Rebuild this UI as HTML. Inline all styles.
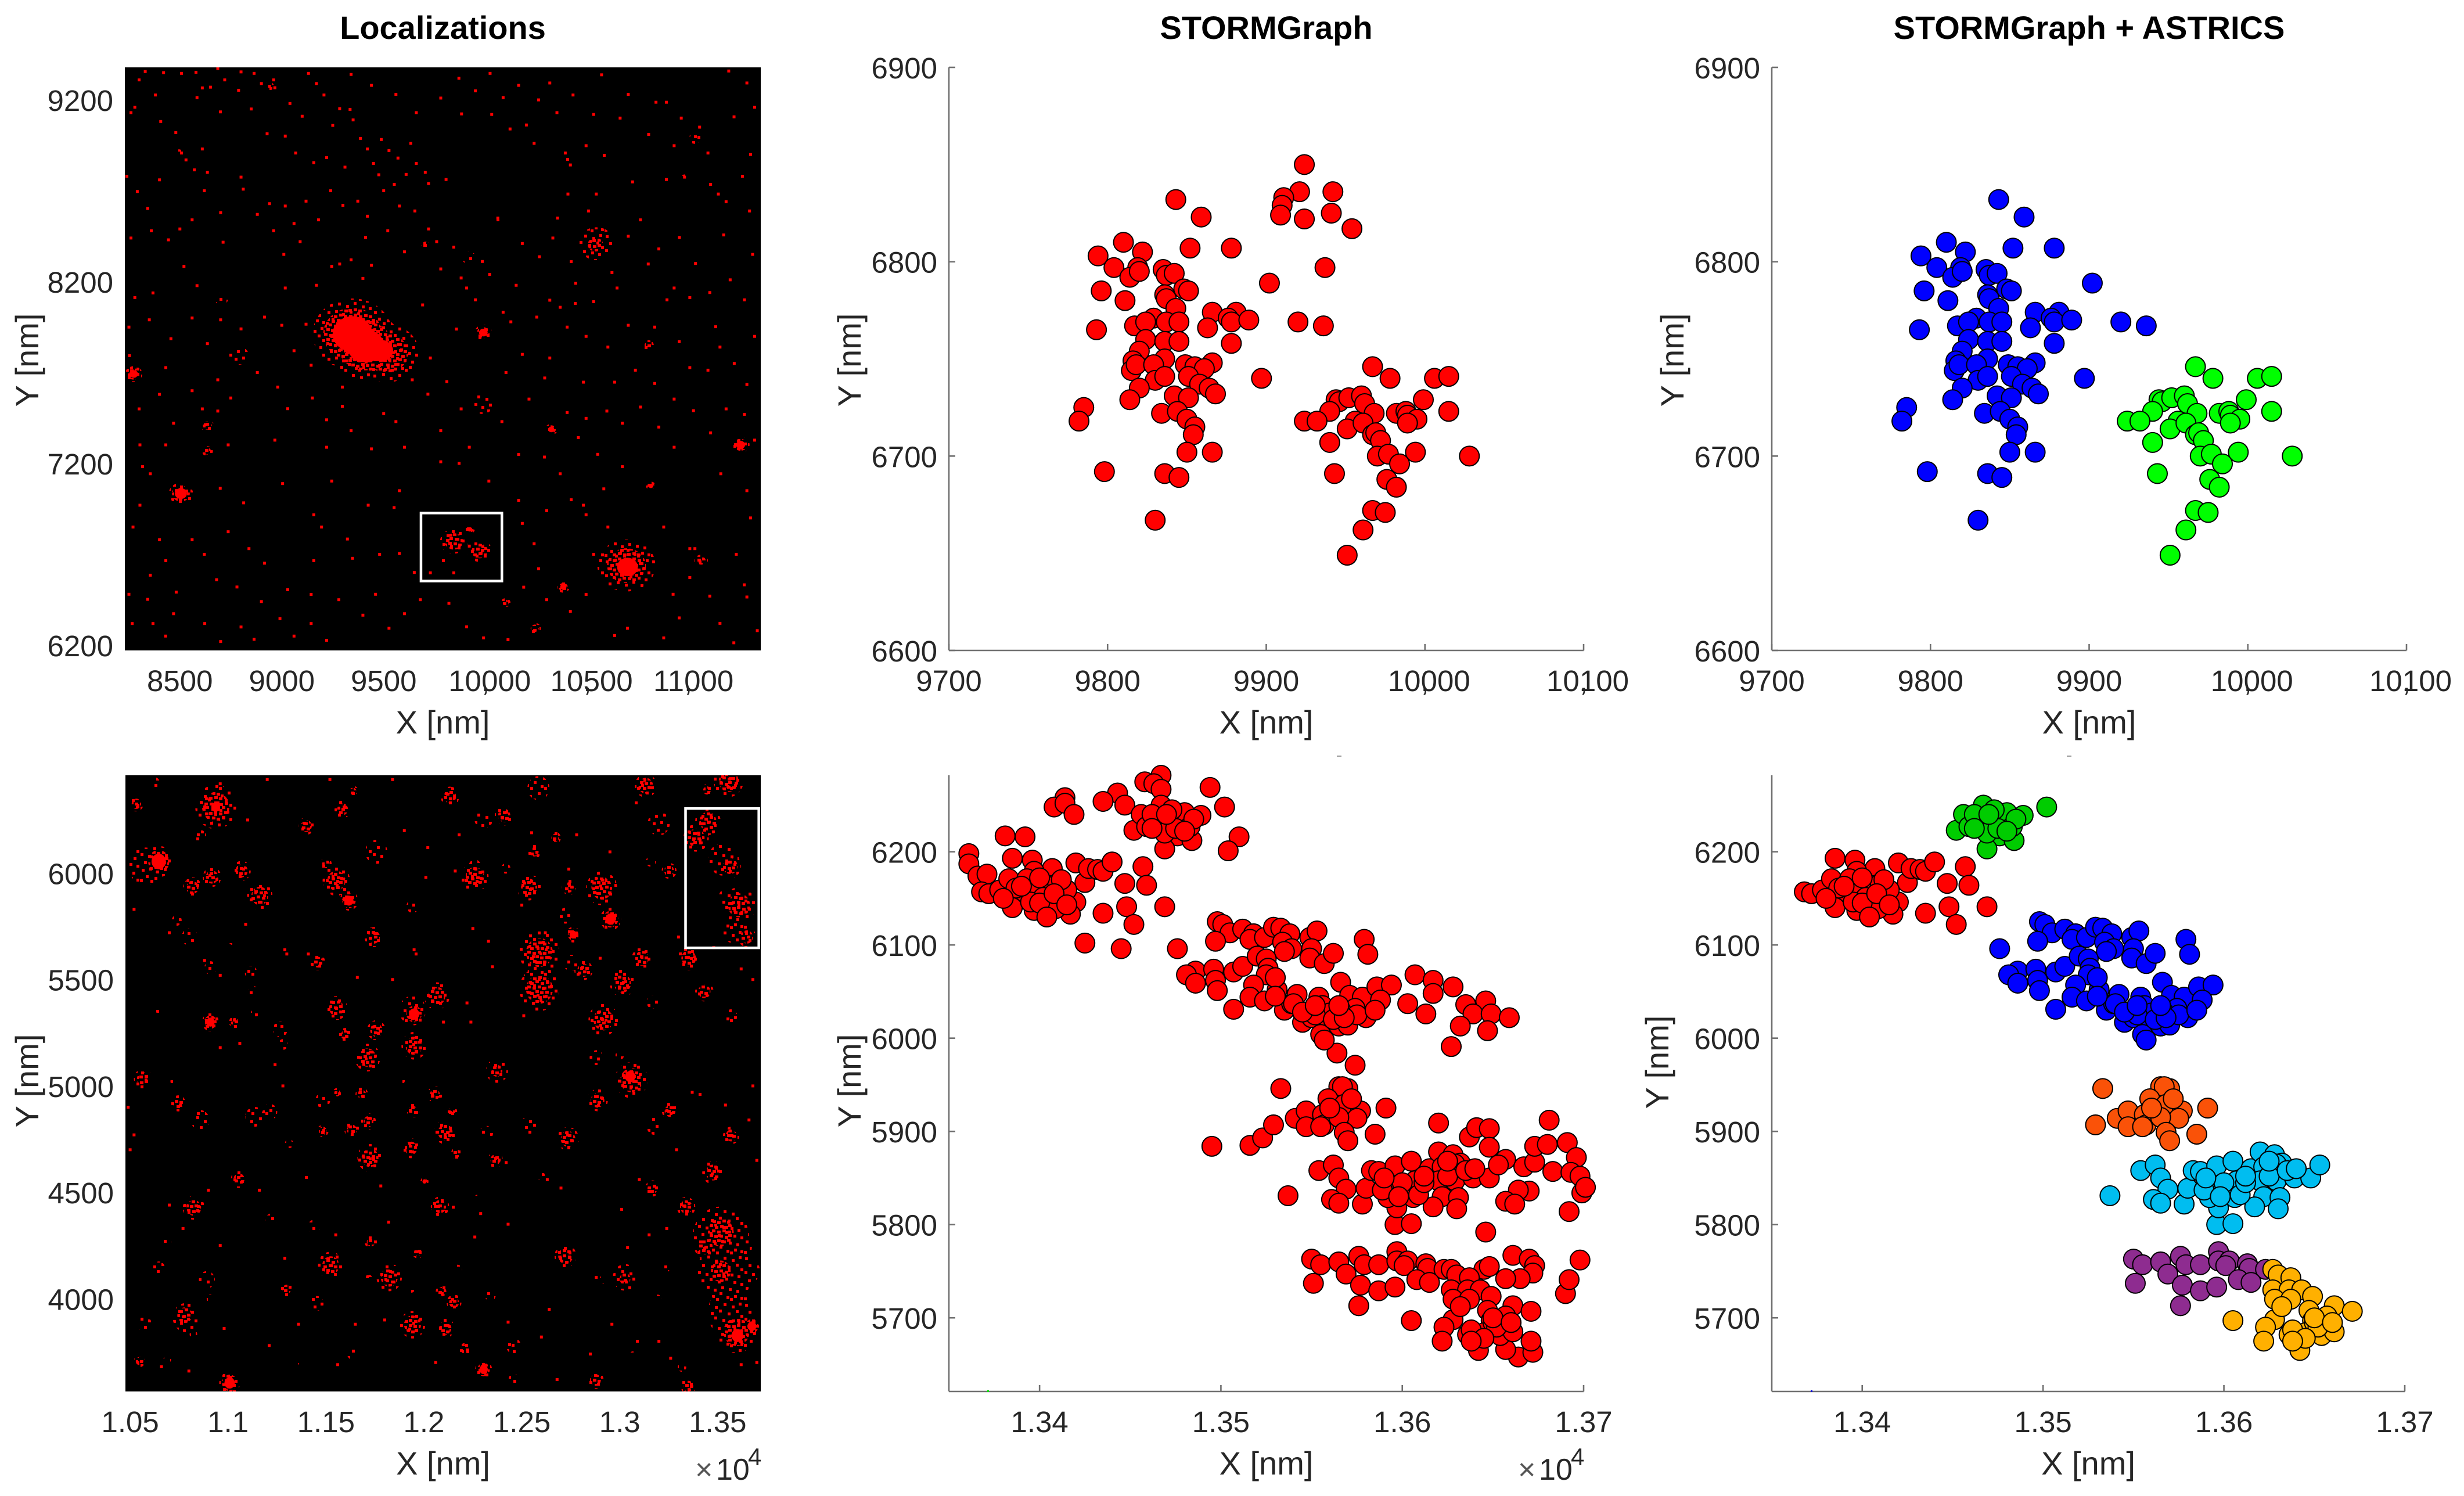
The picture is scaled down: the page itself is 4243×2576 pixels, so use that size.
<!DOCTYPE html>
<html lang="en">
<head>
<meta charset="utf-8">
<title>Localizations, STORMGraph and STORMGraph + ASTRICS</title>
<style>
html,body{margin:0;padding:0;background:#fff;}
svg{display:block;}
text{font-family:"Liberation Sans",Arial,sans-serif;fill:#262626;}
</style>
</head>
<body>
<svg id="figure" xmlns="http://www.w3.org/2000/svg" width="4243" height="2576" viewBox="0 0 4243 2576">
<defs>
<pattern id="stippleSparse" width="80" height="80" patternUnits="userSpaceOnUse">
<path fill="#f00" d="M3 5h5v5h-5zM18 2h5v5h-5zM31 9h5v5h-5zM46 4h5v5h-5zM60 8h5v5h-5zM72 3h5v5h-5zM9 17h5v5h-5zM24 19h5v5h-5zM38 15h5v5h-5zM53 20h5v5h-5zM67 16h5v5h-5zM75 24h5v5h-5zM2 29h5v5h-5zM15 32h5v5h-5zM30 27h5v5h-5zM44 31h5v5h-5zM58 33h5v5h-5zM70 36h5v5h-5zM8 43h5v5h-5zM22 41h5v5h-5zM36 45h5v5h-5zM49 40h5v5h-5zM63 46h5v5h-5zM75 49h5v5h-5zM4 56h5v5h-5zM17 54h5v5h-5zM29 59h5v5h-5zM42 55h5v5h-5zM55 58h5v5h-5zM68 61h5v5h-5zM11 67h5v5h-5zM26 70h5v5h-5zM39 65h5v5h-5zM51 72h5v5h-5zM64 70h5v5h-5zM75 73h5v5h-5zM1 74h5v5h-5zM19 75h5v5h-5zM33 75h5v5h-5zM57 75h5v5h-5z"/>
</pattern>
<pattern id="stippleDense" width="60" height="60" patternUnits="userSpaceOnUse">
<path fill="#f00" d="M1 2h6v5h-6zM9 0h6v5h-6zM18 3h6v5h-6zM27 1h6v5h-6zM35 3h6v5h-6zM44 0h6v5h-6zM52 2h6v5h-6zM4 9h6v5h-6zM13 11h6v5h-6zM22 8h6v5h-6zM31 11h6v5h-6zM40 9h6v5h-6zM48 11h6v5h-6zM54 8h6v5h-6zM0 18h6v5h-6zM8 17h6v5h-6zM17 19h6v5h-6zM26 17h6v5h-6zM35 19h6v5h-6zM44 17h6v5h-6zM53 19h6v5h-6zM5 26h6v5h-6zM13 28h6v5h-6zM22 25h6v5h-6zM30 27h6v5h-6zM39 26h6v5h-6zM48 28h6v5h-6zM54 25h6v5h-6zM1 34h6v5h-6zM9 36h6v5h-6zM18 33h6v5h-6zM27 35h6v5h-6zM35 34h6v5h-6zM44 36h6v5h-6zM52 33h6v5h-6zM4 43h6v5h-6zM13 45h6v5h-6zM22 42h6v5h-6zM31 44h6v5h-6zM40 43h6v5h-6zM48 45h6v5h-6zM54 42h6v5h-6zM0 52h6v5h-6zM9 51h6v5h-6zM17 53h6v5h-6zM26 51h6v5h-6zM35 53h6v5h-6zM44 51h6v5h-6zM53 53h6v5h-6z"/>
</pattern>
</defs>
</svg>
<script>
/* ---------- tick values and labels ---------- */
const locTopXTicks = [8500, 9000, 9500, 10000, 10500, 11000];
const locTopXLabels = ['8500', '9000', '9500', '10,000', '10,500', '11,000'];
const locTopYTicks = [6200, 7200, 8200, 9200];
const zoomTopXTicks = [9700, 9800, 9900, 10000, 10100];
const zoomTopXLabels = ['9700', '9800', '9900', '10,000', '10,100'];
const zoomTopYTicks = [6600, 6700, 6800, 6900];
const locBottomXTicks = [10500, 11000, 11500, 12000, 12500, 13000, 13500];
const locBottomXLabels = ['1.05', '1.1', '1.15', '1.2', '1.25', '1.3', '1.35'];
const locBottomYTicks = [4000, 4500, 5000, 5500, 6000];
const zoomBottomXTicks = [13400, 13500, 13600, 13700];
const zoomBottomXLabels = ['1.34', '1.35', '1.36', '1.37'];
const zoomBottomYTicks = [5700, 5800, 5900, 6000, 6100, 6200];

/* ---------- top row clusters, [x nm, y nm] ---------- */
const topOnlyPoints = [[9924,6850],[9921,6836],[9942,6836],[9911,6833],[9910,6829],[9909,6824],[9924,6822],[9941,6825],[9954,6817],[9937,6797]];
const topBlueCluster = [[9843,6832],[9859,6823],[9810,6810],[9822,6805],[9794,6803],[9852,6807],[9878,6807],[9804,6797],[9819,6797],[9814,6792],[9820,6795],[9835,6796],[9837,6793],[9842,6794],[9796,6785],[9811,6780],[9848,6786],[9851,6785],[9836,6783],[9837,6781],[9843,6776],[9902,6789],[9793,6765],[9866,6774],[9863,6766],[9881,6774],[9876,6771],[9878,6769],[9889,6770],[9817,6767],[9829,6771],[9824,6769],[9837,6769],[9845,6769],[9824,6760],[9836,6759],[9845,6759],[9878,6758],[9820,6754],[9836,6750],[9816,6749],[9815,6744],[9818,6747],[9829,6747],[9849,6747],[9855,6746],[9866,6748],[9861,6745],[9830,6739],[9836,6741],[9851,6741],[9858,6737],[9864,6735],[9868,6732],[9820,6735],[9842,6731],[9851,6730],[9814,6729],[9897,6740],[9785,6725],[9782,6718],[9834,6722],[9844,6723],[9850,6719],[9855,6715],[9854,6711],[9850,6702],[9866,6702],[9798,6692],[9836,6691],[9845,6689],[9830,6667],[9920,6769],[9936,6767]];
const topGreenCluster = [[9967,6746],[9978,6740],[10006,6740],[10015,6741],[9944,6729],[9946,6728],[9952,6730],[9960,6731],[9962,6727],[9940,6723],[9924,6718],[9932,6718],[9968,6722],[9956,6718],[9951,6714],[9961,6717],[9967,6711],[9969,6712],[9972,6708],[9940,6707],[9999,6729],[9982,6722],[9988,6723],[9989,6721],[9995,6719],[9989,6717],[10015,6723],[9970,6700],[9977,6701],[9984,6696],[9994,6702],[10028,6700],[9943,6691],[9976,6688],[9982,6684],[9967,6672],[9975,6671],[9961,6662],[9951,6649]];

/* ---------- bottom row clusters, [x nm, y nm] ---------- */
const bottomOnlyPoints = [[13458,6275],[13467,6282],[13463,6273],[13467,6267],[13494,6269],[13443,6263],[13447,6250],[13435,6254],[13414,6258],[13408,6248],[13414,6252],[13419,6240],[13510,6216],[13504,6201],[13381,6217],[13392,6216],[13361,6198],[13361,6187],[13366,6174],[13371,6176],[13425,6102],[13445,6096],[13607,6068],[13617,6062],[13617,6048],[13628,6055],[13603,6037],[13613,6026],[13635,6036],[13646,6040],[13639,6026],[13649,6026],[13659,6022],[13632,6013],[13647,6008],[13627,5991],[13564,5984],[13574,5971],[13495,5884],[13516,5885],[13523,5893],[13620,5909],[13637,5894],[13641,5904],[13648,5903],[13648,5883],[13657,5870],[13667,5862],[13673,5867],[13673,5884],[13680,5886],[13681,5912],[13691,5888],[13696,5872],[13683,5857],[13693,5856],[13698,5852],[13699,5834],[13701,5840],[13692,5814],[13670,5836],[13664,5837],[13657,5825],[13662,5822],[13646,5792],[13690,5726],[13692,5741],[13698,5762],[13661,5767],[13670,5763],[13673,5756],[13672,5748],[13665,5742],[13657,5742],[13645,5752],[13648,5755],[13664,5658],[13672,5663],[13671,5675],[13657,5666]];
const bottomRedCluster = [[13368,6157],[13372,6155],[13378,6159],[13383,6171],[13385,6193],[13396,6191],[13407,6182],[13397,6179],[13393,6171],[13391,6154],[13398,6159],[13385,6140],[13397,6137],[13407,6142],[13412,6152],[13420,6146],[13417,6133],[13405,6164],[13410,6166],[13420,6188],[13425,6167],[13427,6182],[13432,6181],[13435,6179],[13440,6189],[13447,6166],[13457,6184],[13459,6164],[13448,6141],[13435,6134],[13452,6122],[13469,6141],[13387,6161],[13402,6151],[13395,6146],[13409,6139],[13415,6159],[13400,6172],[13412,6170],[13400,6145],[13408,6155],[13390,6163],[13380,6150],[13415,6143],[13404,6130]];
const bottomGreenCluster = [[13452,6223],[13456,6240],[13467,6250],[13459,6227],[13464,6229],[13470,6232],[13477,6237],[13480,6242],[13489,6239],[13476,6217],[13484,6212],[13469,6203],[13469,6220],[13483,6227],[13502,6248],[13473,6245],[13462,6240],[13475,6225],[13485,6235],[13470,6240],[13462,6225],[13480,6222]];
const bottomBlueCluster = [[13498,6125],[13501,6122],[13505,6113],[13512,6117],[13518,6112],[13516,6106],[13524,6108],[13529,6119],[13533,6118],[13538,6112],[13534,6103],[13539,6096],[13535,6093],[13549,6108],[13553,6115],[13550,6096],[13549,6086],[13557,6080],[13562,6091],[13497,6104],[13579,6106],[13581,6090],[13476,6096],[13486,6072],[13481,6068],[13486,6059],[13496,6074],[13497,6062],[13498,6051],[13507,6071],[13512,6077],[13520,6088],[13525,6085],[13526,6075],[13525,6068],[13518,6057],[13531,6052],[13516,6044],[13524,6040],[13507,6031],[13535,6030],[13539,6037],[13542,6047],[13540,6037],[13549,6029],[13554,6044],[13556,6035],[13545,6017],[13550,6022],[13557,6022],[13555,6004],[13557,5998],[13565,6013],[13570,6014],[13566,6060],[13571,6046],[13578,6044],[13574,6032],[13580,6022],[13586,6055],[13594,6057],[13588,6041],[13560,6027],[13566,6030],[13552,6025],[13562,6020],[13575,6025],[13568,6022],[13545,6028],[13552,6035],[13565,6035],[13530,6065],[13530,6045],[13585,6030]];
const bottomOrangeCluster = [[13533,5946],[13529,5907],[13541,5914],[13547,5922],[13556,5918],[13547,5905],[13557,5907],[13565,5948],[13570,5946],[13567,5948],[13559,5935],[13568,5929],[13577,5922],[13575,5914],[13565,5915],[13568,5899],[13570,5890],[13585,5897],[13591,5925],[13560,5925],[13572,5935],[13555,5905]];
const bottomCyanCluster = [[13537,5831],[13554,5858],[13562,5864],[13565,5850],[13569,5838],[13561,5827],[13565,5823],[13578,5822],[13580,5839],[13583,5858],[13587,5857],[13596,5863],[13605,5868],[13596,5800],[13605,5801],[13593,5842],[13603,5838],[13597,5818],[13606,5829],[13592,5829],[13607,5847],[13615,5860],[13620,5878],[13628,5875],[13632,5866],[13622,5862],[13629,5865],[13620,5847],[13629,5847],[13639,5850],[13648,5850],[13653,5864],[13622,5830],[13631,5829],[13617,5819],[13630,5817],[13609,5832],[13589,5837],[13600,5845],[13612,5845],[13625,5852],[13635,5858],[13640,5860],[13625,5868],[13612,5852],[13598,5830],[13590,5850]];
const bottomPurpleCluster = [[13550,5763],[13555,5757],[13565,5760],[13569,5747],[13576,5766],[13579,5757],[13587,5757],[13597,5771],[13597,5761],[13603,5761],[13601,5756],[13613,5758],[13614,5753],[13623,5752],[13551,5737],[13577,5735],[13587,5729],[13596,5733],[13608,5741],[13615,5738],[13576,5713]];
const bottomYellowCluster = [[13627,5752],[13630,5746],[13637,5743],[13627,5730],[13636,5730],[13643,5730],[13649,5723],[13628,5720],[13637,5720],[13647,5708],[13661,5713],[13657,5702],[13671,5707],[13649,5697],[13628,5698],[13623,5690],[13605,5697],[13622,5675],[13636,5682],[13640,5682],[13645,5684],[13650,5695],[13654,5681],[13661,5685],[13642,5675],[13642,5665],[13638,5687],[13632,5712],[13652,5690],[13645,5678],[13650,5700],[13660,5695],[13638,5675]];

/* ---------- localization density blobs, [x nm, y nm, radius nm, density 0|1|2] ---------- */
const topLocBlobs = [[9373,7886,158,0],[9577,7780,76,0],[9513,7806,107,1],[9347,7912,115,2],[9411,7846,107,2],[9487,7820,70,2],[10544,8409,90,0],[10539,8404,38,1],[10691,6638,140,0],[10691,6638,95,1],[10696,6630,60,2],[8505,7034,35,2],[8273,7692,25,2],[8704,8106,33,0],[9989,7920,25,2],[9844,6771,45,1],[9971,6718,40,1],[9923,6837,14,2],[10322,7387,18,2],[11251,7302,26,2],[11058,6665,22,1],[10381,6519,18,2],[10241,6293,20,1],[10098,6434,16,1],[10811,7076,14,2],[8788,7793,50,0],[8635,7408,22,1],[8635,7267,18,1],[10798,7851,18,1],[9984,7527,55,0],[9920,8329,35,0],[9704,8404,18,1],[11027,8988,30,0],[8940,9275,22,0],[10060,8550,18,0],[8495,8908,20,0],[10404,8882,25,0],[10976,8775,15,0]];
const bottomLocBlobs = [[10937,6311,58,1],[10937,6311,22,2],[10579,6033,73,0],[10646,6055,36,2],[10818,5933,26,1],[10918,5982,26,1],[11069,6011,26,1],[11162,5893,36,1],[10857,6173,26,0],[11400,6222,23,1],[11585,6300,23,1],[11638,6382,16,1],[10627,6426,20,0],[10532,6326,20,1],[11757,6100,47,0],[11500,6044,16,1],[11553,5964,39,1],[11617,5871,23,2],[12133,6360,26,1],[12305,6255,39,0],[12410,6271,26,1],[12260,5982,39,1],[12260,6033,26,0],[12585,6400,47,0],[12670,6166,16,1],[12564,6100,18,1],[12537,5933,34,1],[12418,6022,20,0],[12741,5933,20,1],[12749,6018,16,0],[12908,5929,44,1],[12953,5784,26,2],[13133,6411,31,1],[13072,6333,18,0],[13199,6233,47,0],[13252,6011,21,1],[13159,6055,21,0],[13556,6433,42,1],[13445,6389,16,1],[13450,6244,36,1],[13390,6166,36,1],[13530,6066,65,0],[13564,6033,31,1],[13543,5889,31,0],[13609,5849,47,1],[13596,5733,57,0],[13649,5700,26,1],[12762,5711,18,2],[12723,5800,31,0],[11942,5844,26,0],[11744,5700,26,1],[11458,5582,21,1],[11117,5533,26,0],[11130,5444,21,0],[10910,5555,26,0],[10804,5700,34,0],[10738,5778,21,0],[11024,5684,18,0],[12590,5627,57,1],[12590,5455,57,1],[12749,5578,31,0],[12815,5544,26,1],[13014,5482,36,1],[13114,5600,29,1],[13352,5600,31,1],[13432,5444,26,1],[13167,5395,26,0],[13569,5329,26,0],[12916,5311,42,1],[12066,5422,36,1],[11942,5355,57,0],[11950,5338,26,2],[11553,5366,31,1],[11757,5262,26,1],[11598,5240,18,1],[11950,5189,36,1],[11712,5133,36,1],[10910,5300,21,2],[11034,5300,16,1],[11135,5340,16,0],[11267,5267,31,0],[11281,5195,21,0],[10646,5355,13,0],[10566,5033,26,1],[10725,5022,16,0],[10746,4918,21,1],[10857,4840,39,0],[11135,4855,39,0],[11214,4878,31,0],[11484,4933,31,0],[11558,4967,13,1],[11683,4960,18,1],[11717,4833,21,1],[11632,4793,21,1],[11484,4789,16,1],[11312,4729,18,0],[11725,4662,36,1],[11934,4707,26,1],[11945,4884,18,1],[12056,4960,21,1],[12109,4782,31,1],[12141,4878,16,1],[12167,4682,16,1],[12318,4778,29,0],[12365,4653,21,1],[12373,5071,47,0],[12373,5071,23,1],[12286,5200,10,0],[11884,5027,16,0],[12532,4811,36,0],[12736,4751,31,1],[12596,4578,18,0],[12881,5133,29,0],[13000,5144,18,0],[13059,5027,47,1],[13053,5044,26,2],[12887,4933,29,1],[13178,4811,34,0],[13257,4882,23,1],[13239,4722,13,0],[13569,4767,23,1],[13477,4593,31,1],[13167,4518,21,1],[13339,4431,26,1],[11056,4562,23,1],[10825,4427,31,1],[11220,4373,23,0],[11439,4340,26,0],[11730,4267,18,1],[12003,4551,10,2],[12082,4433,26,1],[12273,4473,13,0],[10690,4271,18,0],[10646,4144,26,0],[10892,4089,34,0],[10910,4000,16,0],[10786,3911,57,0],[10778,3922,31,1],[10823,3833,16,0],[10574,3878,31,0],[10548,3707,16,1],[10690,3716,16,0],[11008,3604,26,2],[11299,4044,18,1],[11453,3978,29,0],[11524,4156,36,1],[11722,4100,10,1],[11823,4100,36,1],[11969,4218,16,1],[11937,4044,13,0],[11942,3878,36,1],[12093,4033,18,1],[12154,3982,21,1],[12172,4138,18,0],[12109,3862,26,1],[12339,4016,23,0],[12212,3760,18,1],[12305,3667,21,2],[12458,3778,31,0],[12458,3622,21,0],[12723,4200,31,1],[12876,3618,23,1],[13027,4100,52,0],[13027,4093,23,1],[12921,4093,18,0],[13233,4149,21,0],[13194,4000,16,0],[13067,3733,16,0],[13318,3678,18,0],[13350,3589,21,1],[11638,3744,26,0],[11373,3700,13,0],[13516,4289,120,0],[13543,4133,120,0],[13569,3933,100,0],[13649,4133,55,0],[13609,4244,55,0],[13516,4129,42,1],[13437,4244,31,1],[13516,4311,55,1],[13596,3844,55,1],[13601,3827,30,2],[13675,3871,22,2]];

/* ---------- sparse localizations, [x nm, y nm] ---------- */
const topLocDots = [[8330,9356],[8508,9346],[8579,9352],[8686,9373],[8800,9354],[8864,9346],[8940,9275],[8966,9267],[9131,9346],[9207,9227],[8584,9213],[8610,9266],[8380,9227],[8279,9160],[8406,9081],[8699,9134],[8788,9253],[8928,9014],[9017,9001],[9335,9147],[9284,9152],[9386,8988],[9488,8982],[9633,8961],[9526,8921],[9220,8882],[9157,8855],[9068,8908],[8508,8908],[8571,8815],[8635,8802],[8800,8775],[8940,8629],[9017,8616],[9119,8643],[8811,8709],[8291,8696],[8342,8603],[9476,8788],[9552,8735],[9704,8802],[9806,8762],[9653,8589],[9373,8643],[9577,8616],[9882,9123],[9869,9319],[10022,9346],[10086,9213],[10162,9280],[10200,9062],[10238,8961],[10391,8908],[10416,8842],[10493,8948],[10582,8895],[10315,9293],[10429,9227],[10569,9338],[10836,9187],[10887,9187],[10925,8948],[10976,8775],[11091,8908],[11142,8682],[11104,8735],[11193,9359],[11219,9107],[11282,9293],[11320,9160],[10721,8749],[10887,8762],[10543,8682],[10404,8682],[10060,8550],[10353,8550],[10505,8589],[9844,8390],[9984,8311],[10264,8337],[9245,8284],[9284,8297],[9411,8443],[9602,8364],[8712,8417],[8444,8430],[8520,8284],[8584,8178],[8368,8138],[8279,8112],[9398,8218],[9017,8165],[9907,8165],[10442,8191],[10645,8165],[10925,8165],[10798,8297],[11168,8457],[10951,8443],[11295,8589],[10315,8098],[10366,8059],[11002,8112],[10086,8032],[10124,7979],[10251,8005],[10493,7899],[11129,7952],[11320,7899],[9857,7939],[9691,8072],[9119,7966],[8915,8005],[8635,7859],[8456,7886],[8253,7793],[8431,7727],[8686,7660],[9144,7740],[9297,7620],[9729,7780],[10315,7780],[10480,7647],[10633,7647],[11002,7727],[11091,7713],[11282,7634],[10735,7713],[10925,7554],[10595,7488],[10493,7448],[10671,7421],[10213,7554],[9717,7581],[9500,7474],[9297,7514],[9029,7501],[8686,7488],[8469,7421],[8304,7302],[8431,7302],[8317,7182],[8355,7143],[8737,7302],[9220,7289],[8966,7328],[9602,7289],[9780,7209],[9920,7289],[10162,7249],[10289,7235],[10455,7342],[10671,7182],[10925,7289],[11104,7368],[11320,7328],[11154,7143],[11282,7050],[10366,7143],[10162,6997],[10016,7103],[9577,7050],[9245,7103],[9004,7089],[8813,6983],[8698,7063],[8304,6970],[9157,6917],[9195,6850],[9322,6784],[9424,6970],[9551,6957],[10493,6917],[10480,6970],[10874,6850],[11002,6731],[11269,6532],[11282,6465],[8737,6824],[8839,6731],[8915,6651],[8355,6585],[8431,6665],[8342,6452],[8482,6492],[8469,6373],[8368,6319],[8266,6319],[8622,6319],[8864,6232],[8991,6346],[9144,6319],[9220,6227],[9398,6365],[9526,6293],[9602,6373],[9144,6479],[9029,6505],[9157,6665],[9347,6678],[9577,6704],[9907,6301],[10633,6253],[10696,6293],[10874,6240],[11218,6213],[11333,6280],[10238,6758],[10187,6519],[10493,6479],[10416,6386],[11002,6572],[11027,6731],[9793,6665],[9729,6598],[9844,6598],[9920,6745],[8260,9130],[8300,9310],[8420,9350],[8480,9020],[8530,8870],[8610,8930],[8650,9270],[8720,9310],[8850,9150],[8900,9290],[8960,9310],[9040,9180],[9100,9110],[9170,9290],[9250,9060],[9310,8830],[9350,9090],[9420,8930],[9450,8850],[9570,8880],[9610,8790],[9660,8850],[9720,8740],[9500,8700],[9420,8560],[9300,8620],[9240,8700],[9180,8540],[9060,8520],[8960,8480],[8880,8570],[8700,8580],[8560,8540],[8500,8490],[8360,8480],[8260,8440],[8240,8780],[8400,8760],[8620,8700],[9010,8350],[9090,8420],[9170,8180],[9340,8320],[9440,8290],[9520,8480],[9720,8490],[9760,8420],[9780,8270],[9880,8220],[9950,8100],[10020,8240],[10150,8180],[10180,8410],[10330,8440],[10420,8310],[10440,8080],[10530,8090],[10620,8250],[10700,8450],[10760,8540],[10850,8380],[10890,8100],[11030,8300],[11100,8140],[11200,8210],[11270,8100],[11310,8350],[11180,8640],[11260,8780],[11300,8900],[11050,9050],[10960,9100],[10800,9010],[10700,9230],[10660,9100],[10530,9120],[10350,9130],[10260,9200],[10120,9040],[10030,9120],[9950,9250],[9780,9210],[9660,9130],[9560,9230],[9440,9280],[9340,9340],[8300,7500],[8400,7580],[8560,7600],[8610,7500],[8750,7560],[8880,7700],[8980,7620],[9060,7820],[9000,7960],[8800,7940],[8700,7990],[8560,8000],[8350,7990],[8250,7950],[9150,7560],[9220,7440],[9340,7380],[9440,7280],[9560,7430],[9640,7660],[9810,7650],[9880,7500],[9780,7380],[9870,7200],[10080,7430],[10100,7700],[10180,7800],[10400,7480],[10550,7250],[10760,7510],[10830,7640],[10850,7400],[11020,7490],[11180,7500],[11270,7470],[11220,7750],[11150,7840],[10950,7870],[10830,7950],[10700,7960],[10600,7840],[10400,7950],[10290,7670],[8270,6850],[8400,6780],[8560,6780],[8620,6700],[8680,6560],[8780,6520],[8900,6440],[8800,6300],[8700,6220],[8250,6480],[8430,6250],[9060,6250],[9280,6450],[9460,6480],[9480,6700],[9650,6600],[9680,6450],[9820,6430],[9990,6240],[10110,6230],[10300,6450],[10260,6620],[10180,6870],[10300,6940],[10420,7000],[10580,7060],[10600,6850],[10530,6700],[11100,6470],[11150,6320],[11230,6700],[11300,6900],[10920,6480],[10950,6350]];
const bottomLocDots = [[10520,5830],[10880,5590],[11290,5640],[11410,5620],[11660,5510],[11950,5640],[12350,5560],[12250,5740],[12330,5680],[12510,5330],[12220,5390],[13410,4960],[13370,4970],[13660,4840],[13540,4910],[13290,4700],[13100,4560],[12630,4560],[12420,4640],[12290,4400],[12150,4430],[11780,4530],[11400,4570],[11160,4510],[10900,4510],[10700,4440],[10520,4770],[10490,4900],[10770,4330],[10960,4250],[11290,4190],[11550,4300],[11820,4360],[12260,4290],[12430,4350],[12700,4520],[13010,4420],[13240,4330],[13150,4300],[13040,4240],[12880,4100],[12640,3950],[12430,3890],[12600,3820],[12960,3880],[13200,3800],[13260,3720],[13090,3800],[12850,3740],[11800,3900],[11650,3880],[11360,3880],[11210,3780],[10980,3860],[10800,3660],[10660,3680],[11560,3690],[12060,3700],[12680,3620],[13620,3690],[13700,3700],[13680,5000],[13700,4650],[13680,5500],[13620,5550],[13480,5650],[13300,5700],[12900,5600],[12620,5720],[12500,5850],[12100,5300],[12240,5300],[11300,5620],[10960,5180],[11060,5200],[11240,5100],[11280,5000],[10500,4700],[11840,5500],[11960,5620],[11900,6200],[12180,6180],[11520,6440],[11200,6440],[11840,6440],[12010,5980],[12160,6010],[12550,6190],[12780,6180],[12950,6100],[11090,5760],[10960,5520],[10960,6420],[11100,6250],[10700,5720],[12020,6120]];

/* ---------- inset rectangles, [xMin, xMax, yMin, yMax] ---------- */
const topInsetBox = [9683, 10080, 6553, 6927];
const bottomInsetBox = [13336, 13710, 5649, 6304];

const svg = document.getElementById('figure');
const NS = 'http://www.w3.org/2000/svg';

function make(tag, attrs, parent) {
  const el = document.createElementNS(NS, tag);
  for (const k in attrs) el.setAttribute(k, attrs[k]);
  (parent || svg).appendChild(el);
  return el;
}
function makeScale(d0, d1, p0, p1) {
  return function (v) { return p0 + (v - d0) / (d1 - d0) * (p1 - p0); };
}

const AXIS = '#707070';
const TICK_FS = 51;

function drawTickLabelX(g, px, baseY, label) {
  const t = make('text', {x: px, y: baseY, 'font-size': TICK_FS, 'text-anchor': 'middle'}, g);
  
  
  if (label.indexOf(',') >= 0) {
    const parts = label.split(',');
    const lead = make('tspan', {dx: 7}, t);
    lead.textContent = parts[0] + ',';
    const rest = make('tspan', {dx: -14}, t);
    rest.textContent = parts[1];
  } else {
    t.textContent = label;
  }
}

function drawAxes(p, xTicks, xLabels, yTicks, yLabels) {
  const g = make('g', {});
  
  
  if (!p.dark) {
    const yAxis = make('line', {x1: p.x0, x2: p.x0, y1: p.y0, y2: p.y1, stroke: AXIS, 'stroke-width': 2.6}, g);
    
    
    const xAxis = make('line', {x1: p.x0, x2: p.x1, y1: p.y1, y2: p.y1, stroke: AXIS, 'stroke-width': 2.6}, g);
    
    
  }
  xTicks.forEach(function (v, i) {
    const px = p.sx(v);
    if (!p.dark) {
      const tk = make('line', {x1: px, x2: px, y1: p.y1, y2: p.y1 - 11, stroke: AXIS, 'stroke-width': 2.6}, g);
      
      
    }
    drawTickLabelX(g, px, p.y1 + 70, xLabels[i]);
  });
  yTicks.forEach(function (v, i) {
    const py = p.sy(v);
    if (!p.dark) {
      const tk = make('line', {x1: p.x0, x2: p.x0 + 11, y1: py, y2: py, stroke: AXIS, 'stroke-width': 2.6}, g);
      
      
    }
    const t = make('text', {x: p.x0 - 20, y: py + 19, 'font-size': TICK_FS, 'text-anchor': 'end'}, g);
    
    
    t.textContent = yLabels[i];
  });
  const xt = make('text', {x: (p.x0 + p.x1) / 2, y: p.y1 + 143, 'font-size': 56, 'text-anchor': 'middle'}, g);
  
  
  xt.textContent = 'X [nm]';
  const ly = p.yTitleY;
  const yt = make('text', {x: 0, y: 0, 'font-size': 56, 'text-anchor': 'middle', transform: 'translate(' + (p.yTitleX + 20) + ',' + ly + ') rotate(-90)'}, g);
  
  
  yt.textContent = 'Y [nm]';
  if (p.title) {
    const tt = make('text', {x: (p.x0 + p.x1) / 2, y: 67, 'font-size': 56, 'font-weight': 'bold', 'text-anchor': 'middle'}, g);
    
    
    tt.style.fill = '#000';
    tt.textContent = p.title;
  }
  if (p.exponent) {
    const ex = make('text', {x: p.x1 - 113, y: p.y1 + 152, 'font-size': 52}, g);
    
    
    const times = make('tspan', {style: 'fill:#555'}, ex);
    times.textContent = '\u00d7';
    const ten = make('tspan', {x: p.x1 - 77}, ex);
    ten.textContent = '10';
    const pow = make('tspan', {x: p.x1 - 22, y: p.y1 + 127, 'font-size': 42}, ex);
    pow.textContent = '4';
  }
}

function blobEllipse(p, b, factor, fill, g) {
  const c = make('ellipse', {
    cx: p.sx(b[0]), cy: p.sy(b[1]),
    rx: Math.abs(p.sx(b[0] + b[2] * factor) - p.sx(b[0])),
    ry: Math.abs(p.sy(b[1] + b[2] * factor) - p.sy(b[1])),
    fill: fill
  }, g);
  
  
}

function drawLocalizations(p, blobs, dots, box) {
  const clipId = p.name + '-clip';
  const defs = make('clipPath', {id: clipId});
  make('rect', {x: p.x0, y: p.y0, width: p.x1 - p.x0, height: p.y1 - p.y0}, defs);
  const bg = make('rect', {x: p.x0, y: p.y0, width: p.x1 - p.x0, height: p.y1 - p.y0, fill: '#000'});
  
  
  const g = make('g', {'clip-path': 'url(#' + clipId + ')'});
  
  
  const sparse = 'url(#stippleSparse)';
  const dense = 'url(#stippleDense)';
  const s = p.blobScale;
  blobs.forEach(function (b) {
    if (b[3] === 0) {
      blobEllipse(p, b, s, sparse, g);
    } else if (b[3] === 1) {
      blobEllipse(p, b, s * 1.5, sparse, g);
      blobEllipse(p, b, s, dense, g);
    } else {
      blobEllipse(p, b, s * 1.7, sparse, g);
      blobEllipse(p, b, s * 1.25, dense, g);
      blobEllipse(p, b, s * 0.85, '#f00', g);
    }
  });
  dots.forEach(function (d) {
    const r = make('rect', {x: p.sx(d[0]) - 2.5, y: p.sy(d[1]) - 2.5, width: 5, height: 5, fill: '#f00'}, g);
    
    
  });
  const bx = make('rect', {
    x: p.sx(box[0]), y: p.sy(box[3]),
    width: p.sx(box[1]) - p.sx(box[0]), height: p.sy(box[2]) - p.sy(box[3]),
    fill: 'none', stroke: '#fff', 'stroke-width': 4.5
  });
  
  
}

function drawPoints(p, points, color, seriesName) {
  const g = make('g', {});
  
  
  points.forEach(function (d) {
    const c = make('circle', {cx: p.sx(d[0]), cy: p.sy(d[1]), r: 17, fill: color, stroke: '#000', 'stroke-width': 2}, g);
    
    
  });
}

function panel(cfg) {
  cfg.sx = makeScale(cfg.xMin, cfg.xMax, cfg.x0, cfg.x1);
  cfg.sy = makeScale(cfg.yMin, cfg.yMax, cfg.y1, cfg.y0);
  return cfg;
}

const TOP = {y0: 116, y1: 1120};
const BOT = {y0: 1335, y1: 2396};

const p1 = panel({name: 'top-localizations', title: 'Localizations', dark: true, blobScale: 1, x0: 215, x1: 1310, y0: TOP.y0, y1: TOP.y1, xMin: 8230, xMax: 11350, yMin: 6171, yMax: 9379, yTitleX: 46, yTitleY: 620});
const p2 = panel({name: 'top-stormgraph', title: 'STORMGraph', x0: 1634, x1: 2727, y0: TOP.y0, y1: TOP.y1, xMin: 9700, xMax: 10100, yMin: 6600, yMax: 6900, yTitleX: 1462, yTitleY: 620});
const p3 = panel({name: 'top-astrics', title: 'STORMGraph + ASTRICS', x0: 3051, x1: 4144, y0: TOP.y0, y1: TOP.y1, xMin: 9700, xMax: 10100, yMin: 6600, yMax: 6900, yTitleX: 2879, yTitleY: 620});
const p4 = panel({name: 'bottom-localizations', dark: true, exponent: true, blobScale: 1.2, x0: 216, x1: 1310, y0: BOT.y0, y1: BOT.y1, xMin: 10476, xMax: 13720, yMin: 3564, yMax: 6460, yTitleX: 46, yTitleY: 1861});
const p5 = panel({name: 'bottom-stormgraph', exponent: true, x0: 1634, x1: 2727, y0: BOT.y0, y1: BOT.y1, xMin: 13350, xMax: 13700, yMin: 5621, yMax: 6282, yTitleX: 1462, yTitleY: 1861});
const p6 = panel({name: 'bottom-astrics', x0: 3051, x1: 4141, y0: BOT.y0, y1: BOT.y1, xMin: 13350, xMax: 13700, yMin: 5621, yMax: 6282, yTitleX: 2853, yTitleY: 1829});

drawLocalizations(p1, topLocBlobs, topLocDots, topInsetBox);
drawLocalizations(p4, bottomLocBlobs, bottomLocDots, bottomInsetBox);

drawPoints(p2, topBlueCluster.concat(topOnlyPoints, topGreenCluster), '#ff0000', 'all-clusters-red');
drawPoints(p3, topBlueCluster, '#0000ff', 'cluster-blue');
drawPoints(p3, topGreenCluster, '#00ff00', 'cluster-green');

drawPoints(p5, bottomOnlyPoints.concat(bottomRedCluster, bottomGreenCluster, bottomBlueCluster, bottomOrangeCluster, bottomCyanCluster, bottomPurpleCluster, bottomYellowCluster), '#ff0000', 'all-clusters-red');
drawPoints(p6, bottomRedCluster, '#ff0000', 'cluster-red');
drawPoints(p6, bottomGreenCluster, '#00cc00', 'cluster-green');
drawPoints(p6, bottomBlueCluster, '#0000ff', 'cluster-blue');
drawPoints(p6, bottomOrangeCluster, '#fa5208', 'cluster-orange');
drawPoints(p6, bottomCyanCluster, '#00bdf0', 'cluster-cyan');
drawPoints(p6, bottomPurpleCluster, '#8e2c90', 'cluster-purple');
drawPoints(p6, bottomYellowCluster, '#ffb000', 'cluster-yellow');

drawAxes(p1, locTopXTicks, locTopXLabels, locTopYTicks, locTopYTicks.map(String));
drawAxes(p2, zoomTopXTicks, zoomTopXLabels, zoomTopYTicks, zoomTopYTicks.map(String));
drawAxes(p3, zoomTopXTicks, zoomTopXLabels, zoomTopYTicks, zoomTopYTicks.map(String));
drawAxes(p4, locBottomXTicks, locBottomXLabels, locBottomYTicks, locBottomYTicks.map(String));
drawAxes(p5, zoomBottomXTicks, zoomBottomXLabels, zoomBottomYTicks, zoomBottomYTicks.map(String));
drawAxes(p6, zoomBottomXTicks, zoomBottomXLabels, zoomBottomYTicks, zoomBottomYTicks.map(String));
</script>
<svg xmlns="http://www.w3.org/2000/svg" width="4243" height="2576" viewBox="0 0 4243 2576" style="position:absolute;left:0;top:0;pointer-events:none">
<line x1="2302" x2="2310" y1="1302" y2="1302" stroke="#999" stroke-width="2"/>
<line x1="3559" x2="3567" y1="1302" y2="1302" stroke="#999" stroke-width="2"/>
<rect x="1700" y="2394" width="3" height="3" fill="#00e000"/>
<rect x="3118" y="2394" width="3" height="3" fill="#0000e0"/>
</svg>
</body>
</html>
